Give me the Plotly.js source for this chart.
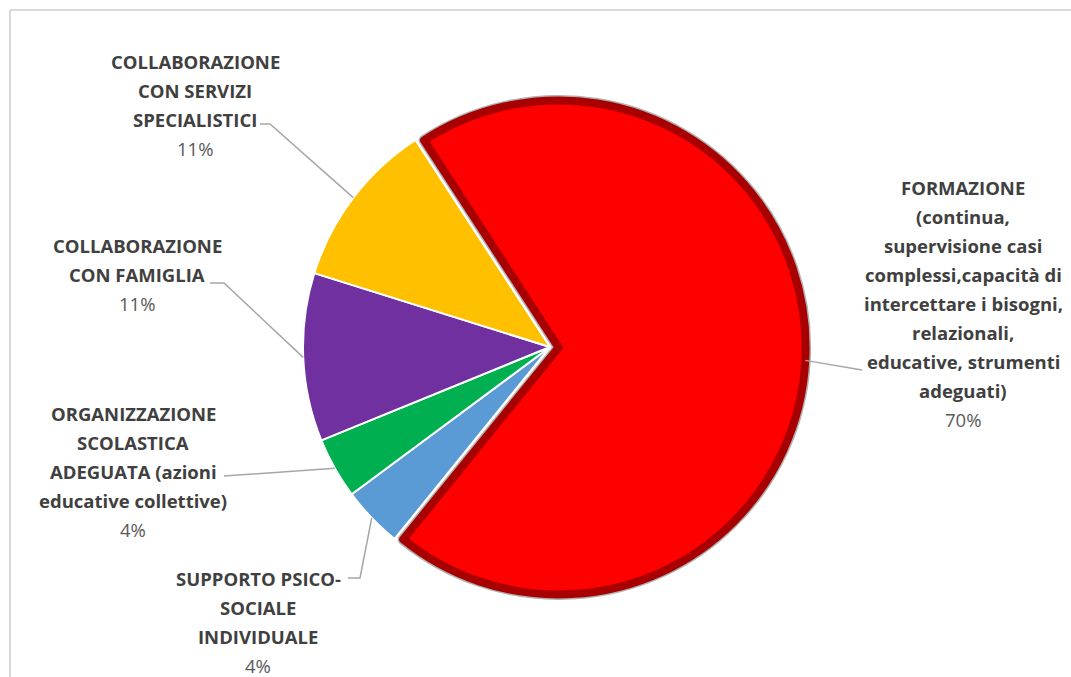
<!DOCTYPE html>
<html>
<head>
<meta charset="utf-8">
<script src="https://cdn.plot.ly/plotly-3.0.1.min.js"></script>
<style>
  html, body { margin: 0; padding: 0; background: #ffffff; }
  #chart { width: 1071px; height: 677px; }
</style>
</head>
<body>
<div id="chart"></div>
<script>
// ---- data ----
const categories = [
  'FORMAZIONE (continua, supervisione casi complessi,capacità di intercettare i bisogni, relazionali, educative, strumenti adeguati)',
  'SUPPORTO PSICO-SOCIALE INDIVIDUALE',
  'ORGANIZZAZIONE SCOLASTICA ADEGUATA (azioni educative collettive)',
  'COLLABORAZIONE CON FAMIGLIA',
  'COLLABORAZIONE CON SERVIZI SPECIALISTICI'
];
const values = [70, 4, 4, 11, 11];
const labelLines = [
  ['FORMAZIONE', '(continua,', 'supervisione casi', 'complessi,capacità di', 'intercettare i bisogni,', 'relazionali,', 'educative, strumenti', 'adeguati)'],
  ['SUPPORTO PSICO-', 'SOCIALE', 'INDIVIDUALE'],
  ['ORGANIZZAZIONE', 'SCOLASTICA', 'ADEGUATA (azioni', 'educative collettive)'],
  ['COLLABORAZIONE', 'CON FAMIGLIA'],
  ['COLLABORAZIONE', 'CON SERVIZI', 'SPECIALISTICI']
];
const sliceColors = ['#FF0000', '#5B9BD5', '#00B050', '#7030A0', '#FFC000'];

// ---- layout / geometry ----
const W = 1071, H = 677;
const cx = 550, cy = 347, R = 247;
const pulls = [0.035, 0, 0, 0, 0];
const maxPull = 0.035;
const half = R * (1 + maxPull);
const rotation = -33;
const domain = {
  x: [(cx - half) / W, (cx + half) / W],
  y: [1 - (cy + half) / H, 1 - (cy - half) / H]
};

// label placement: [center x, first line y]
const labelPos = [[963, 187], [258, 578], [133, 413], [137, 245], [195, 62]];
const lineGap = 29;
// leader line label-side points
const leaderStart = [
  [[862, 370]],
  [[348, 578], [360, 578]],
  [[224, 476]],
  [[210, 283], [224, 283]],
  [[260, 124], [270, 124]]
];

const total = values.reduce((a, b) => a + b, 0);
const px = x => x / W, py = y => 1 - y / H;
const FONT = '"Open Sans", sans-serif';

const annotations = [];
const shapes = [];
let angle = rotation;
values.forEach((v, i) => {
  const span = v / total * 360;
  const mid = (angle + span / 2) * Math.PI / 180;
  angle += span;
  const off = pulls[i] * R;
  const ex = cx + (R + off) * Math.sin(mid);
  const ey = cy - (R + off) * Math.cos(mid);
  const [lx, ly] = labelPos[i];
  const lines = labelLines[i];
  lines.forEach((t, k) => {
    annotations.push({
      x: px(lx), y: py(ly + k * lineGap), xref: 'paper', yref: 'paper',
      text: '<b>' + t + '</b>', showarrow: false, xanchor: 'center', yanchor: 'middle',
      font: { family: FONT, size: 18.5, color: '#404040' }
    });
  });
  annotations.push({
    x: px(lx), y: py(ly + lines.length * lineGap), xref: 'paper', yref: 'paper',
    text: Math.round(v / total * 100) + '%', showarrow: false, xanchor: 'center', yanchor: 'middle',
    font: { family: FONT, size: 18.5, color: '#595959' }
  });
  const pts = leaderStart[i].concat([[ex, ey]]);
  const path = pts.map((p, k) => (k ? 'L' : 'M') + px(p[0]) + ',' + py(p[1])).join(' ');
  shapes.push({ type: 'path', xref: 'paper', yref: 'paper', path: path,
    line: { color: '#A6A6A6', width: 1.5 } });
});

// frame
shapes.push({ type: 'line', xref: 'paper', yref: 'paper', x0: px(10), x1: 1, y0: py(10), y1: py(10), line: { color: '#D9D9D9', width: 2 } });
shapes.push({ type: 'line', xref: 'paper', yref: 'paper', x0: px(10), x1: px(10), y0: py(10), y1: 0, line: { color: '#D9D9D9', width: 2 } });

const shadow = {
  type: 'pie', values: values, labels: categories, sort: false, direction: 'clockwise',
  rotation: rotation, pull: pulls, domain: domain, textinfo: 'none', hoverinfo: 'skip',
  marker: {
    colors: sliceColors.map((c, i) => i === 0 ? '#B0B0B0' : 'rgba(0,0,0,0)'),
    line: { color: sliceColors.map((c, i) => i === 0 ? '#B0B0B0' : 'rgba(0,0,0,0)'), width: values.map((v, i) => i === 0 ? 11 : 0) }
  }
};
const main = {
  type: 'pie', values: values, labels: categories, sort: false, direction: 'clockwise',
  rotation: rotation, pull: pulls, domain: domain, textinfo: 'none', hoverinfo: 'label+percent',
  marker: {
    colors: sliceColors,
    line: { color: sliceColors.map((c, i) => i === 0 ? '#A80000' : '#FFFFFF'), width: values.map((v, i) => i === 0 ? 8 : 2) }
  }
};

Plotly.newPlot('chart', [shadow, main], {
  width: W, height: H, margin: { l: 0, r: 0, t: 0, b: 0 },
  showlegend: false, paper_bgcolor: '#FFFFFF', plot_bgcolor: '#FFFFFF',
  annotations: annotations, shapes: shapes
}, { displayModeBar: false, staticPlot: true });
</script>
</body>
</html>
